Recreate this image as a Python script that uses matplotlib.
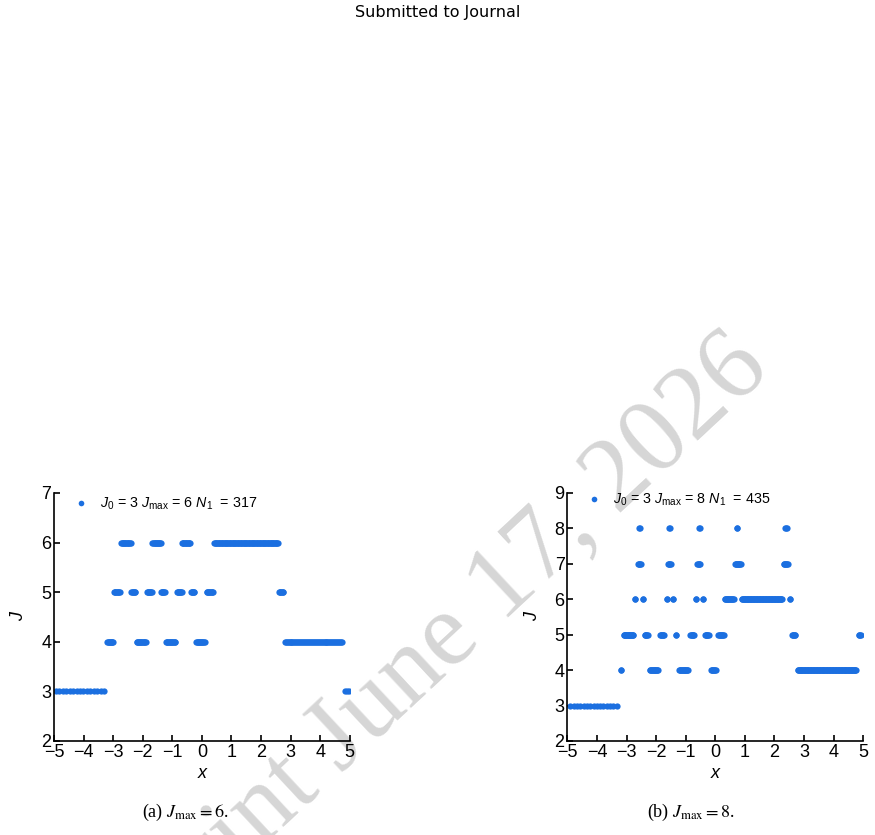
import numpy as np
import matplotlib
matplotlib.use("Agg")
import matplotlib.pyplot as plt

plt.rcParams['font.family'] = ['Liberation Sans', 'DejaVu Sans']
plt.rcParams['mathtext.fontset'] = 'custom'
plt.rcParams['mathtext.rm'] = 'Liberation Sans'
plt.rcParams['mathtext.it'] = 'Liberation Sans:italic'

# panel (a): runs of points, x from / x to, level J, number of points
a_x0 = [-4.93, -3.20, -2.97, -2.73, -2.38, -2.21, -1.86, -1.67, -1.38, -1.21, -0.84, -0.67, -0.36, -0.19, 0.16, 0.42, 2.61, 2.80, 4.84]
a_x1 = [-3.31, -3.00, -2.78, -2.41, -2.25, -1.90, -1.69, -1.39, -1.26, -0.90, -0.68, -0.40, -0.26, 0.09, 0.38, 2.57, 2.75, 4.74, 4.96]
a_J = [3, 4, 5, 6, 5, 4, 5, 6, 5, 4, 5, 6, 5, 4, 5, 6, 5, 4, 3]
a_n = [15, 10, 9, 14, 7, 14, 8, 13, 7, 14, 8, 12, 6, 13, 10, 88, 7, 60, 3]

# panel (b)
b_x0 = [-4.90, -3.19, -3.10, -2.70, -2.61, -2.58, -2.44, -2.39, -2.21, -1.86, -1.64, -1.60, -1.56, -1.42, -1.33, -1.22,
        -0.84, -0.66, -0.61, -0.55, -0.42, -0.35, -0.14, 0.10, 0.32, 0.67, 0.72, 0.90, 2.32, 2.37, 2.52, 2.60, 2.79, 4.85]
b_x1 = [-3.33, -3.19, -2.77, -2.70, -2.52, -2.56, -2.44, -2.28, -1.94, -1.73, -1.64, -1.51, -1.54, -1.42, -1.31, -0.92,
        -0.72, -0.66, -0.51, -0.53, -0.42, -0.22, 0.01, 0.28, 0.62, 0.86, 0.74, 2.26, 2.45, 2.42, 2.52, 2.71, 4.76, 4.93]
b_J = [3, 4, 5, 6, 7, 8, 6, 5, 4, 5, 6, 7, 8, 6, 5, 4,
       5, 6, 7, 8, 6, 5, 4, 5, 6, 7, 8, 6, 7, 8, 6, 5, 4, 5]
b_n = [15, 2, 18, 2, 5, 2, 2, 6, 14, 7, 2, 5, 2, 2, 2, 15,
       7, 2, 5, 2, 2, 7, 8, 9, 15, 10, 2, 68, 7, 3, 2, 6, 99, 4]

panels = [
    (a_x0, a_x1, a_J, a_n, 6, 317, 7, "(a) $J_{\\max} = 6$.", 0.956, 185),
    (b_x0, b_x1, b_J, b_n, 8, 435, 9, "(b) $J_{\\max} = 8$.", 0.972, 691),
]
lefts = [0.0617, 0.6484]

fig = plt.figure(figsize=(8.75, 8.35), dpi=100)
color = '#1b6fe0'

# watermark behind the axes
fig.text(772 / 875, 1 - 372 / 835, "Preprint June 17, 2026", ha='right', va='baseline',
         rotation=43, rotation_mode='anchor', family='Liberation Serif',
         fontsize=76, color='#d6d6d6', zorder=-1)

for (x0, x1, J, n, jmax, n1, ytop, cap, legy, capx), left in zip(panels, lefts):
    ax = fig.add_axes([left, 0.1126, 0.338, 0.297])
    ax.set_facecolor('none')
    xs = np.concatenate([np.linspace(s, e, k) for s, e, k in zip(x0, x1, n)])
    js = np.concatenate([np.full(k, j) for j, k in zip(J, n)])
    ax.plot(xs, js, 'o', ms=4.5, color=color, mec='none',
            label="$J_0$ = 3 $J_{\\mathrm{max}}$ = %d $N_1$  = %d" % (jmax, n1))
    ax.set_xlim(-5, 5)
    ax.set_ylim(2, ytop)
    ax.set_xticks(range(-5, 6))
    ax.set_yticks(range(2, ytop + 1))
    for s in ['top', 'right']:
        ax.spines[s].set_visible(False)
    for s in ['left', 'bottom']:
        ax.spines[s].set_linewidth(1.2)
    ax.tick_params(direction='in', length=4, width=1.2, labelsize=13, pad=2)
    ax.set_xlabel('x', fontstyle='italic', fontsize=13, labelpad=3)
    ax.set_ylabel('J', fontstyle='italic', fontsize=13, labelpad=10)
    ax.legend(loc='center left', bbox_to_anchor=(0.024, legy), frameon=False,
              fontsize=10.3, handletextpad=0.3, handlelength=2.0,
              borderaxespad=0, markerscale=0.9)
    fig.text(capx / 875, 1 - 812 / 835, cap, ha='center', va='center',
             family='Liberation Serif', math_fontfamily='stix', fontsize=13)

fig.text(0.5, 1 - 13 / 835, "Submitted to Journal", ha='center', va='center',
         family='DejaVu Sans', fontsize=11.5)

fig.savefig('out.png', dpi=100)
